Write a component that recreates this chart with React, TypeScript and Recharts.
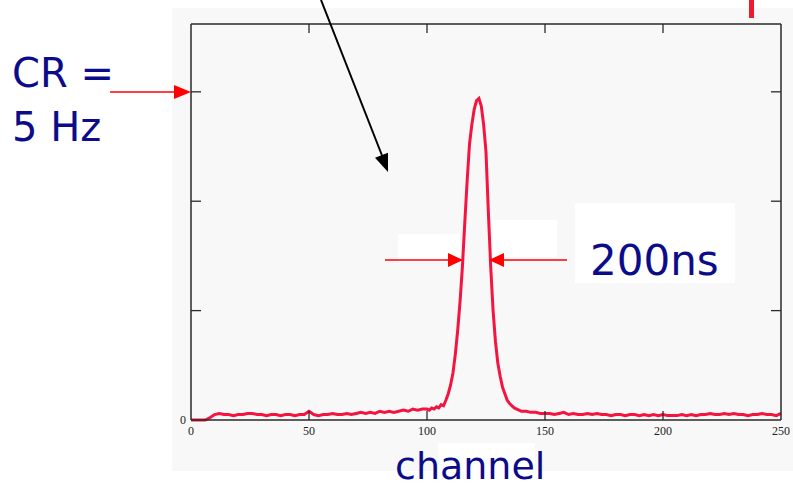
import React from 'react';
import { LineChart, Line, XAxis, YAxis } from 'recharts';

// counts per channel
// channels 0..98, step 2
const lowCounts = [
  0, 0, 0, 0, 2, 5, 6, 5, 5, 4, 5, 5, 6, 6, 5, 5, 4, 5, 5, 4, 5, 5, 4, 5, 5,
  8, 5, 4, 5, 5, 6, 5, 5, 6, 5, 6, 7, 6, 7, 6, 8, 7, 8, 7, 8, 9, 8, 10, 9, 10,
];
// channels 100..140, step 1
const peakCounts = [
  10, 9, 11, 10, 12, 11, 14, 13, 18, 24, 32, 43, 60, 82, 108, 140, 180, 218, 252, 270,
  284, 292, 294, 287, 270, 245, 190, 140, 100, 72, 52, 40, 30, 24, 18, 15, 13, 11, 10, 9, 8,
];
// channels 142..250, step 2
const highCounts = [
  8, 7, 7, 6, 6, 6, 5, 6, 7, 5, 6, 5, 5, 6, 5, 6, 5, 5, 4, 5, 5, 4, 5, 5, 4, 5, 4, 5,
  4, 5, 4, 4, 4, 5, 4, 5, 4, 5, 5, 6, 5, 5, 6, 5, 6, 5, 5, 4, 5, 5, 6, 5, 5, 4, 6,
];

const xTicks = [0, 50, 100, 150, 200, 250];
const xTicksTop = [50, 100, 150, 200];
const yTicks = [0, 100, 200, 300];

const data = [
  ...lowCounts.map((c, i) => ({ channel: i * 2, counts: c })),
  ...peakCounts.map((c, i) => ({ channel: 100 + i, counts: c })),
  ...highCounts.map((c, i) => ({ channel: 142 + i * 2, counts: c })),
];

const axisColor = '#2a2a2a';
const tickFont = { fontFamily: '"Liberation Serif", serif', fontSize: 12, fill: '#222' };
const blue = '#0c0c8a';

const BottomTick = (p: any) => (
  <g>
    {p.payload.value > 0 && p.payload.value < 250 && (
      <line x1={p.x} y1={p.y} x2={p.x} y2={p.y - 9} stroke={axisColor} strokeWidth={1.3} />
    )}
    <text x={p.x} y={p.y + 15} textAnchor="middle" {...tickFont}>{p.payload.value}</text>
  </g>
);
const TopTick = (p: any) => (
  <line x1={p.x} y1={p.y} x2={p.x} y2={p.y + 9} stroke={axisColor} strokeWidth={1.3} />
);
const LeftTick = (p: any) => (
  <g>
    {p.payload.value > 0 && (
      <line x1={p.x} y1={p.y} x2={p.x + 10} y2={p.y} stroke={axisColor} strokeWidth={1.3} />
    )}
    {p.payload.value === 0 && (
      <text x={p.x - 5} y={p.y + 4} textAnchor="end" {...tickFont}>0</text>
    )}
  </g>
);
const RightTick = (p: any) =>
  p.payload.value > 0 ? (
    <line x1={p.x} y1={p.y} x2={p.x - 10} y2={p.y} stroke={axisColor} strokeWidth={1.3} />
  ) : (
    <g />
  );

const abs: React.CSSProperties = { position: 'absolute', left: 0, top: 0 };

export default function App() {
  return (
    <div style={{ ...abs, width: 793, height: 489, background: '#fff', overflow: 'hidden' }}>
      {/* scanned-page background */}
      <svg width={793} height={489} style={abs}>
        <rect x={172} y={8} width={621} height={463} fill="#f8f8f8" />
        <rect x={398} y={234} width={62} height={28} fill="#fff" />
        <rect x={492} y={220} width={65} height={37} fill="#fff" />
        <rect x={575} y={203} width={160} height={80} fill="#fff" />
        <rect x={438} y={443} width={97} height={46} fill="#fff" />
        <rect x={749} y={0} width={5} height={18} fill="#f01a30" />
      </svg>
      <div style={abs}>
        <LineChart width={793} height={489} data={data} margin={{ top: 14, right: 2, bottom: 39, left: 171 }}>
          <XAxis
            xAxisId="b"
            dataKey="channel"
            type="number"
            domain={[0, 250]}
            ticks={xTicks}
            interval={0}
            height={30}
            tickSize={0}
            tickMargin={0}
            tickLine={false}
            axisLine={{ stroke: axisColor, strokeWidth: 1.5 }}
            tick={BottomTick}
          />
          <XAxis
            xAxisId="t"
            orientation="top"
            dataKey="channel"
            type="number"
            domain={[0, 250]}
            ticks={xTicksTop}
            interval={0}
            height={10}
            tickSize={0}
            tickMargin={0}
            tickLine={false}
            axisLine={{ stroke: axisColor, strokeWidth: 1.5 }}
            tick={TopTick}
          />
          <YAxis
            yAxisId="l"
            type="number"
            domain={[0, 362]}
            ticks={yTicks}
            interval={0}
            width={20}
            tickSize={0}
            tickMargin={0}
            tickLine={false}
            axisLine={{ stroke: axisColor, strokeWidth: 1.5 }}
            tick={LeftTick}
          />
          <YAxis
            yAxisId="r"
            orientation="right"
            type="number"
            domain={[0, 362]}
            ticks={yTicks}
            interval={0}
            width={10}
            tickSize={0}
            tickMargin={0}
            tickLine={false}
            axisLine={{ stroke: axisColor, strokeWidth: 1.5 }}
            tick={RightTick}
          />
          <Line
            xAxisId="b"
            yAxisId="l"
            dataKey="counts"
            type="linear"
            stroke="#f4143f"
            strokeWidth={3}
            dot={false}
            isAnimationActive={false}
          />
          <Line
            xAxisId="t"
            yAxisId="r"
            dataKey="counts"
            stroke="none"
            dot={false}
            isAnimationActive={false}
          />
        </LineChart>
      </div>
      {/* slide annotations */}
      <svg width={793} height={489} style={abs}>
        <line x1={321} y1={0} x2={383} y2={158} stroke="#000" strokeWidth={2} />
        <polygon points="388,172 375,157.7 388,152.7" fill="#000" />
        <line x1={110} y1={92} x2={176} y2={92} stroke="#f00" strokeWidth={1.5} />
        <polygon points="191,92 174,85 174,99" fill="#f00" />
        <line x1={385} y1={260} x2={450} y2={260} stroke="#f00" strokeWidth={1.5} />
        <polygon points="463,260 448,253 448,267" fill="#f00" />
        <line x1={567} y1={260} x2={502} y2={260} stroke="#f00" strokeWidth={1.5} />
        <polygon points="489,260 504,253 504,267" fill="#f00" />
        <g fontFamily='"DejaVu Sans", sans-serif' fill={blue}>
          <text x={12} y={87} fontSize={40}>CR =</text>
          <text x={12} y={141} fontSize={40}>5 Hz</text>
          <text x={590} y={275} fontSize={42}>200ns</text>
          <text x={395} y={479} fontSize={38}>channel</text>
        </g>
      </svg>
    </div>
  );
}
